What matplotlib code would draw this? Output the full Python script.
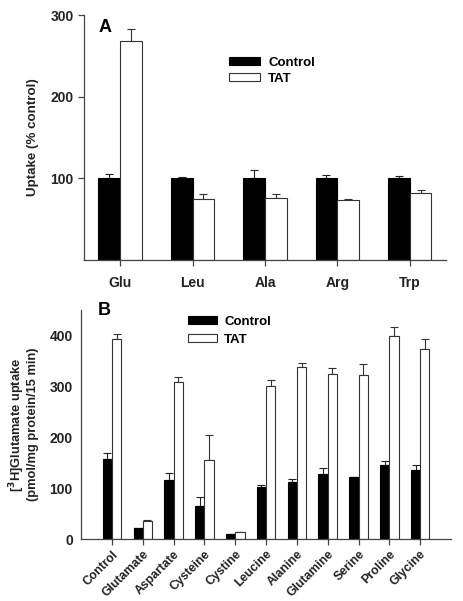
import numpy as np
import matplotlib.pyplot as plt
from matplotlib.transforms import ScaledTranslation

plt.rcParams['font.family'] = ['Liberation Sans', 'DejaVu Sans']
plt.rcParams['font.weight'] = 'bold'

# --- panel A: uptake as % of control ---
a_labels = ['Glu', 'Leu', 'Ala', 'Arg', 'Trp']
a_control = [100, 100, 100, 100, 100]
a_control_err = [5, 1, 10, 4, 3]
a_tat = [268, 74, 76, 73, 82]
a_tat_err = [15, 6, 4, 1.5, 4]

# --- panel B: [3H]glutamate uptake ---
b_labels = ['Control', 'Glutamate', 'Aspartate', 'Cysteine', 'Cystine', 'Leucine',
            'Alanine', 'Glutamine', 'Serine', 'Proline', 'Glycine']
b_control = [157, 22, 117, 65, 10, 102, 113, 128, 122, 145, 135]
b_control_err = [12, 0, 12, 17, 0, 4, 5, 12, 1, 9, 10]
b_tat = [393, 36, 308, 155, 13, 301, 339, 324, 323, 399, 373]
b_tat_err = [10, 2, 10, 50, 1, 11, 8, 13, 22, 17, 20]

AXCOL = '#444444'
W = 0.3


def draw_panel(ax, labels, ctrl, ctrl_err, tat, tat_err, fs):
    x = np.arange(len(labels))
    ax.bar(x - W / 2, ctrl, W, color='black', edgecolor='black', lw=0.8, label='Control', zorder=2)
    ax.bar(x + W / 2, tat, W, color='white', edgecolor='#333333', lw=0.8, label='TAT', zorder=2)
    ax.errorbar(x - W / 2, ctrl, yerr=[np.zeros(len(x)), ctrl_err], fmt='none',
                ecolor='#222222', elinewidth=0.8, capsize=3, capthick=0.8, zorder=1)
    ax.errorbar(x + W / 2, tat, yerr=[np.zeros(len(x)), tat_err], fmt='none',
                ecolor='#333333', elinewidth=0.8, capsize=3, capthick=0.8, zorder=1)
    for s in ['top', 'right']:
        ax.spines[s].set_visible(False)
    for s in ['left', 'bottom']:
        ax.spines[s].set_color(AXCOL)
        ax.spines[s].set_linewidth(0.9)
    ax.tick_params(colors=AXCOL, labelcolor='#222222', labelsize=fs, width=0.9, length=4)
    ax.set_xticks(x)
    return x


fig = plt.figure(figsize=(4.64, 6.01), dpi=100)

# panel A
axA = fig.add_axes([0.181, 0.568, 0.780, 0.407])
draw_panel(axA, a_labels, a_control, a_control_err, a_tat, a_tat_err, 10)
axA.set_xlim(-0.5, 4.5)
axA.set_ylim(0, 300)
axA.set_yticks([100, 200, 300])
axA.set_xticklabels(a_labels, fontweight='bold')
axA.tick_params(axis='x', pad=8)
axA.set_ylabel('Uptake (% control)', fontsize=9.6, fontweight='bold', color='#222222', labelpad=8)
axA.text(0.04, 0.985, 'A', transform=axA.transAxes, fontsize=13, fontweight='bold',
         va='top', ha='left')
axA.legend(loc='upper left', bbox_to_anchor=(0.40, 0.83), frameon=False, fontsize=9.5,
           handlelength=2.4, handleheight=0.55, borderpad=0, borderaxespad=0,
           labelspacing=0.3, handletextpad=0.6)

# panel B
axB = fig.add_axes([0.175, 0.103, 0.797, 0.381])
draw_panel(axB, b_labels, b_control, b_control_err, b_tat, b_tat_err, 10)
axB.set_xlim(-1, 11)
axB.set_ylim(0, 450)
axB.set_yticks([0, 100, 200, 300, 400])
axB.tick_params(axis='y', length=0, pad=6)
axB.tick_params(axis='x', labelsize=8.8, pad=2)
axB.set_xticklabels(b_labels, rotation=45, ha='right', va='center', rotation_mode='anchor',
                    fontweight='bold')
shift = ScaledTranslation(4 / 100, 3 / 100, fig.dpi_scale_trans)
for t in axB.get_xticklabels():
    t.set_y(-0.035)
    t.set_transform(t.get_transform() + shift)
axB.set_ylabel('[$^3$H]Glutamate uptake\n(pmol/mg protein/15 min)', fontsize=9.3,
               fontweight='bold', color='#222222', labelpad=8, linespacing=1.0)
axB.text(0.045, 1.035, 'B', transform=axB.transAxes, fontsize=13, fontweight='bold',
         va='top', ha='left')
axB.legend(loc='upper left', bbox_to_anchor=(0.29, 0.975), frameon=False, fontsize=9.5,
           handlelength=2.2, handleheight=0.55, borderpad=0, borderaxespad=0,
           labelspacing=0.45, handletextpad=0.5)

fig.savefig('out.png', dpi=100)
